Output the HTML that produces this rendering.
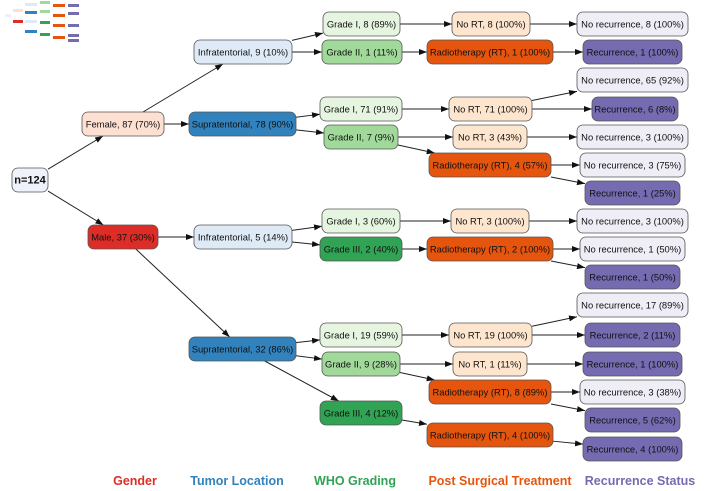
<!DOCTYPE html>
<html><head><meta charset="utf-8"><style>
body{margin:0;background:#fff;width:708px;height:491px;overflow:hidden;font-family:"Liberation Sans",sans-serif}
svg{position:absolute;left:0;top:0}
</style></head><body>
<svg id="s" width="708" height="491" xmlns="http://www.w3.org/2000/svg">
<defs><marker id="a" markerWidth="8" markerHeight="6" refX="8" refY="3" orient="auto" markerUnits="userSpaceOnUse"><path d="M0,0 L8,3 L0,6 z" fill="#111"/></marker></defs>
<g id="thumb">
<rect x="5" y="14" width="6" height="3" fill="#eef"/><rect x="13" y="9" width="10" height="3" fill="#fde0d2"/><rect x="13" y="20" width="10" height="3" fill="#de2d26"/>
<rect x="25" y="3" width="12" height="3" fill="#deebf7"/><rect x="25" y="11" width="12" height="3" fill="#3182bd"/><rect x="25" y="20" width="12" height="3" fill="#deebf7"/><rect x="25" y="30" width="12" height="3" fill="#3182bd"/>
<rect x="40" y="1" width="10" height="3" fill="#a1d99b"/><rect x="40" y="10" width="10" height="3" fill="#a1d99b"/><rect x="40" y="21" width="10" height="3" fill="#31a354"/><rect x="40" y="33" width="10" height="3" fill="#31a354"/>
<rect x="53" y="4" width="12" height="3" fill="#e6550d"/><rect x="53" y="14" width="12" height="3" fill="#e6550d"/><rect x="53" y="24" width="12" height="3" fill="#e6550d"/><rect x="53" y="36" width="12" height="3" fill="#e6550d"/>
<rect x="68" y="4" width="11" height="3" fill="#756bb1"/><rect x="68" y="12" width="11" height="3" fill="#756bb1"/><rect x="68" y="24" width="11" height="3" fill="#756bb1"/><rect x="68" y="34" width="11" height="3" fill="#756bb1"/><rect x="68" y="39" width="11" height="3" fill="#756bb1"/>
</g>
<g id="e" stroke="#222" stroke-width="1" fill="none"></g>
<g id="n"></g>
<g font-weight="bold" font-size="12.5" text-anchor="middle">
<text x="135" y="485" fill="#de2d26">Gender</text>
<text x="237" y="485" fill="#3182bd">Tumor Location</text>
<text x="355" y="485" fill="#31a354">WHO Grading</text>
<text x="500" y="485" fill="#e6550d">Post Surgical Treatment</text>
<text x="640" y="485" fill="#756bb1">Recurrence Status</text>
</g>
</svg>
<script>
var C={f:"#fde0d2",m:"#de2d26",i:"#deebf7",s:"#3182bd",g1:"#e5f5e0",g2:"#a1d99b",g3:"#31a354",nr:"#fee6ce",rt:"#e6550d",nc:"#efedf5",rc:"#756bb1",r:"#eef2fb"};
var N={
r:[12,48,168,"r","n=124"],
f:[82,164,112,"f","Female, 87 (70%)"],
m:[88,158,225,"m","Male, 37 (30%)"],
i1:[194,292,40,"i","Infratentorial, 9 (10%)"],
s1:[189,296,112,"s","Supratentorial, 78 (90%)"],
i2:[194,292,225,"i","Infratentorial, 5 (14%)"],
s2:[189,296,337,"s","Supratentorial, 32 (86%)"],
a1:[323,400,12,"g1","Grade I, 8 (89%)"],
a2:[322,402,40,"g2","Grade II, 1 (11%)"],
a3:[320,402,97,"g1","Grade I, 71 (91%)"],
a4:[324,398,125,"g2","Grade II, 7 (9%)"],
a5:[322,400,209,"g1","Grade I, 3 (60%)"],
a6:[320,402,237,"g3","Grade III, 2 (40%)"],
a7:[320,402,323,"g1","Grade I, 19 (59%)"],
a8:[322,400,352,"g2","Grade II, 9 (28%)"],
a9:[320,402,401,"g3","Grade III, 4 (12%)"],
b1:[452,530,12,"nr","No RT, 8 (100%)"],
b2:[427,553,40,"rt","Radiotherapy (RT), 1 (100%)"],
b3:[449,532,97,"nr","No RT, 71 (100%)"],
b4:[453,527,125,"nr","No RT, 3 (43%)"],
b5:[429,551,153,"rt","Radiotherapy (RT), 4 (57%)"],
b6:[451,529,209,"nr","No RT, 3 (100%)"],
b7:[427,553,237,"rt","Radiotherapy (RT), 2 (100%)"],
b8:[449,532,323,"nr","No RT, 19 (100%)"],
b9:[453,527,352,"nr","No RT, 1 (11%)"],
b10:[429,551,380,"rt","Radiotherapy (RT), 8 (89%)"],
b11:[427,553,423,"rt","Radiotherapy (RT), 4 (100%)"],
c1:[577,688,12,"nc","No recurrence, 8 (100%)"],
c2:[583,682,40,"rc","Recurrence, 1 (100%)"],
c3:[577,688,68,"nc","No recurrence, 65 (92%)"],
c4:[592,678,97,"rc","Recurrence, 6 (8%)"],
c5:[577,688,125,"nc","No recurrence, 3 (100%)"],
c6:[580,685,153,"nc","No recurrence, 3 (75%)"],
c7:[585,680,181,"rc","Recurrence, 1 (25%)"],
c8:[577,688,209,"nc","No recurrence, 3 (100%)"],
c9:[580,685,237,"nc","No recurrence, 1 (50%)"],
c10:[585,680,265,"rc","Recurrence, 1 (50%)"],
c11:[577,688,293,"nc","No recurrence, 17 (89%)"],
c12:[585,680,323,"rc","Recurrence, 2 (11%)"],
c13:[583,682,352,"rc","Recurrence, 1 (100%)"],
c14:[580,685,380,"nc","No recurrence, 3 (38%)"],
c15:[585,680,408,"rc","Recurrence, 5 (62%)"],
c16:[583,682,437,"rc","Recurrence, 4 (100%)"]};
var E=[["r","f"],["r","m"],["f","i1"],["f","s1"],["m","i2"],["m","s2"],["i1","a1"],["i1","a2"],["s1","a3"],["s1","a4"],["i2","a5"],["i2","a6"],["s2","a7"],["s2","a8"],["s2","a9"],
["a1","b1"],["a2","b2"],["a3","b3"],["a4","b4"],["a4","b5"],["a5","b6"],["a6","b7"],["a7","b8"],["a8","b9"],["a8","b10"],["a9","b11"],
["b1","c1"],["b2","c2"],["b3","c3"],["b3","c4"],["b4","c5"],["b5","c6"],["b5","c7"],["b6","c8"],["b7","c9"],["b7","c10"],["b8","c11"],["b8","c12"],["b9","c13"],["b10","c14"],["b10","c15"],["b11","c16"]];
var H=24,ns="http://www.w3.org/2000/svg";
function ctr(n){return[(n[0]+n[1])/2,n[2]+H/2]}
function clip(n,cx,cy,dx,dy){var hw=(n[1]-n[0])/2,hh=H/2,t=1e9;
if(dx)t=Math.min(t,hw/Math.abs(dx));if(dy)t=Math.min(t,hh/Math.abs(dy));return[cx+dx*t,cy+dy*t]}
var eg=document.getElementById("e"),ng=document.getElementById("n");
E.forEach(function(p){var A=N[p[0]],B=N[p[1]],a=ctr(A),b=ctr(B),dx=b[0]-a[0],dy=b[1]-a[1];
var s=clip(A,a[0],a[1],dx,dy),t=clip(B,b[0],b[1],-dx,-dy);
var l=document.createElementNS(ns,"line");l.setAttribute("x1",s[0]);l.setAttribute("y1",s[1]);l.setAttribute("x2",t[0]);l.setAttribute("y2",t[1]);l.setAttribute("marker-end","url(#a)");eg.appendChild(l);});
for(var k in N){var n=N[k],r=document.createElementNS(ns,"rect");
r.setAttribute("x",n[0]);r.setAttribute("y",n[2]);r.setAttribute("width",n[1]-n[0]);r.setAttribute("height",H);r.setAttribute("rx",6);
r.setAttribute("fill",C[n[3]]);r.setAttribute("stroke","#555");r.setAttribute("stroke-width","0.8");ng.appendChild(r);
var t=document.createElementNS(ns,"text");t.setAttribute("x",(n[0]+n[1])/2);t.setAttribute("y",n[2]+15.5);t.setAttribute("text-anchor","middle");
t.setAttribute("font-size",k=="r"?"11":"9.4");if(k=="r")t.setAttribute("font-weight","bold");t.setAttribute("fill","#111");t.textContent=n[4];ng.appendChild(t);}
</script>
</body></html>
